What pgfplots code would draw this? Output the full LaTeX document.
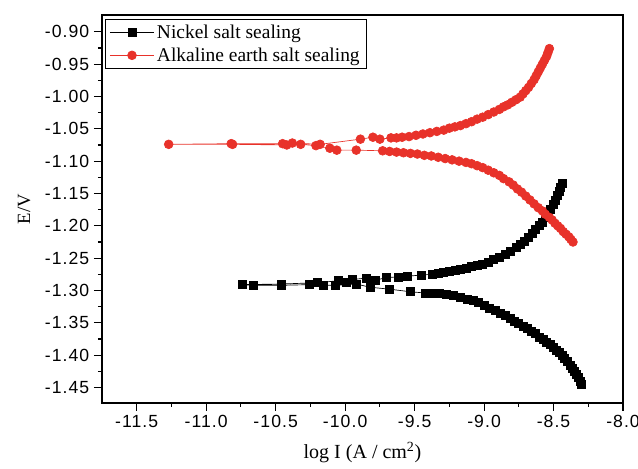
\documentclass[border=0pt]{standalone}
\usepackage{fontspec}
\setmainfont{Liberation Serif}
\newfontfamily\arial[LetterSpace=6]{Liberation Sans}
\usepackage{pgfplots}
\pgfplotsset{compat=1.18}
\usetikzlibrary{calc}
\definecolor{SealRed}{HTML}{E8322A}

\begin{document}
\begin{tikzpicture}
\begin{axis}[
  scale only axis,
  width=390.75pt,height=291pt,
  xmin=-11.75,xmax=-8.0,
  ymin=-1.474,ymax=-0.874,
  xtick={-11.5,-11,-10.5,-10,-9.5,-9,-8.5,-8},
  ytick={-1.45,-1.40,-1.35,-1.30,-1.25,-1.20,-1.15,-1.10,-1.05,-1.00,-0.95,-0.90},
  minor tick num=1,
  tick align=outside,
  tick pos=left,
  major tick length=6pt,
  minor tick length=3pt,
  tick style={black,line width=0.8pt},
  axis line style={line width=0.9pt},
  ticklabel style={font=\arial\fontsize{13.2}{15}\selectfont},
  /pgf/number format/assume math mode=true,
  xticklabel style={/pgf/number format/.cd,fixed,fixed zerofill,precision=1},
  yticklabel style={/pgf/number format/.cd,fixed,fixed zerofill,precision=2},
  xlabel={log I (A / cm\textsuperscript{2})},
  ylabel={E/V},
  xlabel style={font=\fontsize{15}{17}\selectfont,yshift=-4pt},
  ylabel style={font=\fontsize{14}{16}\selectfont,yshift=4pt},
  legend style={at={(0.006,0.99)},anchor=north west,draw=black,line width=0.8pt,
    font=\fontsize{14.6}{16}\selectfont,row sep=1.5pt,inner sep=2pt,
    inner xsep=3pt},
  legend cell align=left,
  legend image code/.code={\draw[mark repeat=2,mark phase=2,#1]
    plot coordinates {(0cm,0cm)(0.58cm,0cm)(1.16cm,0cm)};},
]
\addplot[black,line width=0.5pt,mark=square*,mark size=3pt,mark options={solid}]
 coordinates {
 (-8.30,-1.445)(-8.31,-1.440)(-8.32,-1.435)(-8.335,-1.430)(-8.35,-1.425)
 (-8.365,-1.420)(-8.38,-1.415)(-8.40,-1.410)(-8.42,-1.405)(-8.44,-1.400)
 (-8.46,-1.396)(-8.48,-1.392)(-8.50,-1.388)(-8.52,-1.384)(-8.55,-1.380)
 (-8.57,-1.376)(-8.60,-1.372)(-8.63,-1.367)(-8.66,-1.363)(-8.69,-1.359)
 (-8.72,-1.355)(-8.75,-1.351)(-8.78,-1.347)(-8.81,-1.343)(-8.85,-1.339)
 (-8.88,-1.335)(-8.92,-1.331)(-8.96,-1.327)(-9.00,-1.323)(-9.04,-1.319)
 (-9.08,-1.316)(-9.12,-1.313)(-9.17,-1.310)(-9.22,-1.308)(-9.27,-1.306)
 (-9.32,-1.305)(-9.37,-1.304)(-9.42,-1.304)(-9.53,-1.302)(-9.68,-1.298)
 (-9.82,-1.295)(-9.92,-1.290)(-10.07,-1.292)(-10.16,-1.292)(-10.26,-1.291)
 (-10.46,-1.292)(-10.66,-1.292)(-10.74,-1.291)(-10.46,-1.290)(-10.20,-1.288)
 (-10.05,-1.285)(-9.99,-1.287)(-9.95,-1.283)(-9.85,-1.281)(-9.78,-1.284)
 (-9.70,-1.280)(-9.62,-1.279)(-9.55,-1.278)(-9.45,-1.276)(-9.37,-1.275)
 (-9.33,-1.274)(-9.29,-1.272)(-9.25,-1.271)(-9.21,-1.269)(-9.17,-1.267)
 (-9.13,-1.265)(-9.09,-1.263)(-9.05,-1.261)(-9.01,-1.259)(-8.97,-1.256)
 (-8.93,-1.252)(-8.89,-1.248)(-8.85,-1.244)(-8.81,-1.239)(-8.77,-1.234)
 (-8.74,-1.229)(-8.71,-1.224)(-8.68,-1.218)(-8.65,-1.212)(-8.63,-1.206)
 (-8.60,-1.200)(-8.58,-1.194)(-8.56,-1.187)(-8.54,-1.181)(-8.52,-1.174)
 (-8.50,-1.167)(-8.49,-1.160)(-8.47,-1.153)(-8.46,-1.146)(-8.45,-1.140)
 (-8.44,-1.135)
 };
\addlegendentry{Nickel salt sealing}
\addplot[SealRed,line width=0.5pt,mark=*,mark size=3.3pt,mark options={solid}]
 coordinates {
 (-8.36,-1.225)(-8.375,-1.221)(-8.39,-1.217)(-8.41,-1.213)(-8.43,-1.209)
 (-8.45,-1.204)(-8.47,-1.200)(-8.49,-1.196)(-8.51,-1.191)(-8.53,-1.187)
 (-8.56,-1.182)(-8.58,-1.177)(-8.61,-1.172)(-8.64,-1.166)(-8.67,-1.160)
 (-8.70,-1.154)(-8.73,-1.148)(-8.76,-1.143)(-8.79,-1.137)(-8.82,-1.132)
 (-8.86,-1.127)(-8.89,-1.122)(-8.93,-1.118)(-8.97,-1.114)(-9.01,-1.110)
 (-9.05,-1.107)(-9.09,-1.104)(-9.13,-1.102)(-9.18,-1.100)(-9.23,-1.098)
 (-9.28,-1.096)(-9.33,-1.094)(-9.38,-1.092)(-9.43,-1.091)(-9.48,-1.089)
 (-9.53,-1.088)(-9.58,-1.087)(-9.63,-1.086)(-9.68,-1.085)(-9.73,-1.084)
 (-9.92,-1.083)(-10.06,-1.083)(-10.11,-1.080)(-10.21,-1.076)(-10.32,-1.074)
 (-10.42,-1.075)(-10.81,-1.074)(-11.27,-1.074)(-10.82,-1.073)(-10.45,-1.073)
 (-10.38,-1.072)(-10.18,-1.074)(-9.89,-1.066)(-9.80,-1.063)(-9.75,-1.066)
 (-9.67,-1.064)(-9.63,-1.064)(-9.59,-1.063)(-9.54,-1.062)(-9.49,-1.060)
 (-9.44,-1.058)(-9.39,-1.056)(-9.34,-1.054)(-9.29,-1.052)(-9.25,-1.049)
 (-9.21,-1.047)(-9.17,-1.045)(-9.13,-1.042)(-9.09,-1.039)(-9.05,-1.035)
 (-9.01,-1.032)(-8.97,-1.028)(-8.93,-1.024)(-8.89,-1.020)(-8.86,-1.016)
 (-8.83,-1.013)(-8.80,-1.009)(-8.77,-1.005)(-8.74,-1.001)(-8.72,-0.996)
 (-8.70,-0.991)(-8.68,-0.986)(-8.66,-0.980)(-8.64,-0.974)(-8.625,-0.968)
 (-8.61,-0.962)(-8.595,-0.956)(-8.58,-0.950)(-8.565,-0.944)(-8.55,-0.938)
 (-8.54,-0.932)(-8.53,-0.926)
 };
\addlegendentry{Alkaline earth salt sealing}
\end{axis}
\pgfresetboundingbox
\path[use as bounding box] ($(current axis.south west)+(-76.5pt,-49.5pt)$) rectangle ($(current axis.north east)+(11.25pt,11.25pt)$);
\end{tikzpicture}
\end{document}
